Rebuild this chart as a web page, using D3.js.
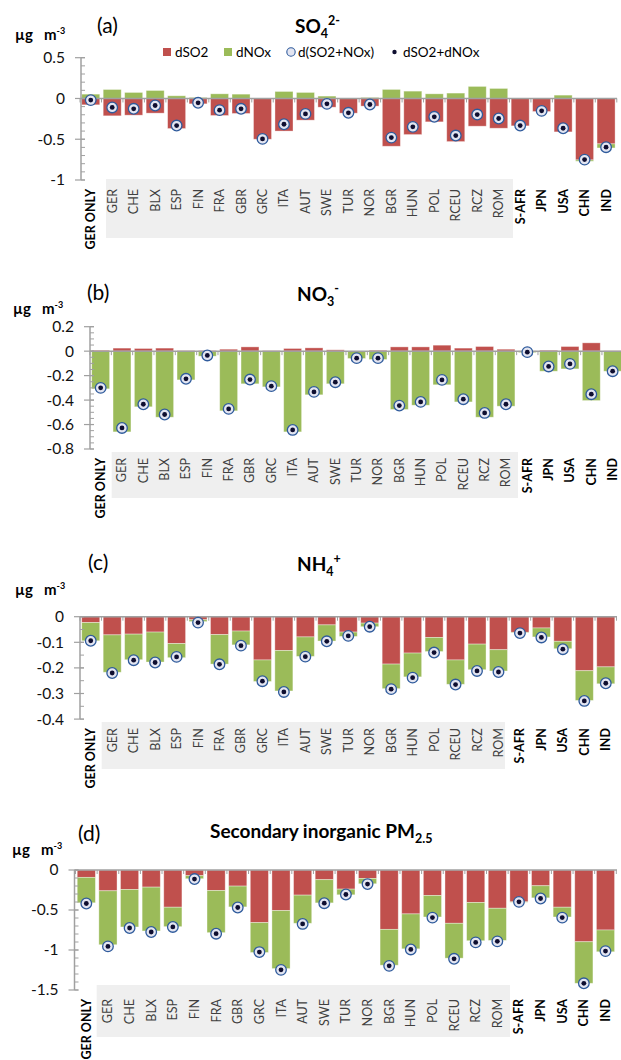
<!DOCTYPE html>
<html><head><meta charset="utf-8">
<script src="https://cdn.jsdelivr.net/npm/d3@7"></script>
<style>
html,body{margin:0;padding:0;background:#fff;}
svg{display:block;font-family:Lato,"Open Sans",sans-serif;}
</style></head>
<body>
<svg id="chart" width="621" height="1060"></svg>
<script>
// ---------------- DATA ----------------
const categories = ["GER ONLY","GER","CHE","BLX","ESP","FIN","FRA","GBR","GRC","ITA","AUT","SWE","TUR","NOR","BGR","HUN","POL","RCEU","RCZ","ROM","S-AFR","JPN","USA","CHN","IND"];
const europeGroup = ["GER","CHE","BLX","ESP","FIN","FRA","GBR","GRC","ITA","AUT","SWE","TUR","NOR","BGR","HUN","POL","RCEU","RCZ","ROM"];
const seriesNames = ["dSO2","dNOx","d(SO2+NOx)","dSO2+dNOx"];

// (a) SO4 2-
const so4DSO2  = [-0.078,-0.213,-0.205,-0.18,-0.369,-0.066,-0.209,-0.184,-0.5,-0.40,-0.266,-0.107,-0.18,-0.094,-0.586,-0.443,-0.287,-0.529,-0.34,-0.365,-0.336,-0.16,-0.41,-0.754,-0.557];
const so4DNOx  = [0.053,0.11,0.074,0.098,0.033,0.012,0.057,0.053,0,0.086,0.074,0.029,0,0.012,0.111,0.09,0.057,0.066,0.148,0.123,0,0,0.041,-0.016,-0.05];
const so4Circle= [-0.02,-0.11,-0.127,-0.086,-0.332,-0.053,-0.143,-0.127,-0.496,-0.316,-0.189,-0.066,-0.176,-0.074,-0.48,-0.348,-0.225,-0.455,-0.197,-0.246,-0.332,-0.152,-0.365,-0.75,-0.598];
const so4Dot   = [-0.02,-0.11,-0.127,-0.086,-0.332,-0.053,-0.143,-0.127,-0.496,-0.316,-0.189,-0.066,-0.176,-0.074,-0.48,-0.348,-0.225,-0.455,-0.197,-0.246,-0.332,-0.152,-0.365,-0.75,-0.598];
const so4Ticks = [0.5,0,-0.5,-1];

// (b) NO3-
const no3DSO2  = [0.008,0.025,0.022,0.025,0.005,0.005,0.016,0.035,0.005,0.022,0.027,0.011,0.0,0.008,0.035,0.035,0.049,0.025,0.038,0.016,0.002,0.008,0.038,0.068,0.003];
const no3DNOx  = [-0.308,-0.66,-0.455,-0.54,-0.235,-0.041,-0.488,-0.267,-0.292,-0.66,-0.357,-0.267,-0.06,-0.068,-0.477,-0.442,-0.275,-0.415,-0.54,-0.45,-0.012,-0.164,-0.145,-0.404,-0.164];
const no3Circle= [-0.30,-0.628,-0.434,-0.518,-0.226,-0.035,-0.472,-0.232,-0.286,-0.644,-0.333,-0.254,-0.057,-0.057,-0.445,-0.415,-0.235,-0.393,-0.505,-0.434,-0.008,-0.125,-0.104,-0.352,-0.164];
const no3Dot   = [-0.30,-0.628,-0.434,-0.518,-0.226,-0.035,-0.472,-0.232,-0.286,-0.644,-0.333,-0.254,-0.057,-0.057,-0.445,-0.415,-0.235,-0.393,-0.505,-0.434,-0.008,-0.125,-0.104,-0.352,-0.164];
const no3Ticks = [0.2,0,-0.2,-0.4,-0.6,-0.8];

// (c) NH4+
const nh4DSO2  = [-0.023,-0.071,-0.068,-0.060,-0.105,-0.012,-0.070,-0.056,-0.169,-0.132,-0.079,-0.032,-0.060,-0.025,-0.185,-0.142,-0.081,-0.169,-0.107,-0.129,-0.061,-0.044,-0.096,-0.211,-0.196];
const nh4DNOx  = [-0.071,-0.146,-0.100,-0.117,-0.055,-0.007,-0.115,-0.054,-0.084,-0.158,-0.076,-0.063,-0.017,-0.014,-0.096,-0.093,-0.055,-0.095,-0.100,-0.083,-0.002,-0.035,-0.029,-0.116,-0.066];
const nh4Circle= [-0.094,-0.22,-0.17,-0.179,-0.157,-0.023,-0.186,-0.113,-0.252,-0.294,-0.156,-0.096,-0.075,-0.039,-0.283,-0.238,-0.140,-0.265,-0.212,-0.216,-0.064,-0.081,-0.127,-0.329,-0.260];
const nh4Dot   = [-0.094,-0.22,-0.17,-0.179,-0.157,-0.023,-0.186,-0.113,-0.252,-0.294,-0.156,-0.096,-0.075,-0.039,-0.283,-0.238,-0.140,-0.265,-0.212,-0.216,-0.064,-0.081,-0.127,-0.329,-0.260];
const nh4Ticks = [0,-0.1,-0.2,-0.3,-0.4];

// (d) Secondary inorganic PM2.5
const pmDSO2   = [-0.092,-0.26,-0.243,-0.214,-0.465,-0.071,-0.256,-0.201,-0.658,-0.507,-0.314,-0.121,-0.239,-0.105,-0.742,-0.549,-0.318,-0.666,-0.406,-0.478,-0.398,-0.197,-0.465,-0.897,-0.75];
const pmDNOx   = [-0.318,-0.674,-0.469,-0.548,-0.243,-0.038,-0.527,-0.26,-0.373,-0.725,-0.352,-0.29,-0.071,-0.067,-0.448,-0.436,-0.269,-0.436,-0.478,-0.402,-0.005,-0.151,-0.122,-0.519,-0.272];
const pmCircle = [-0.419,-0.955,-0.725,-0.775,-0.712,-0.113,-0.796,-0.469,-1.026,-1.248,-0.674,-0.415,-0.306,-0.176,-1.198,-0.993,-0.595,-1.11,-0.905,-0.892,-0.398,-0.356,-0.595,-1.416,-1.014];
const pmDot    = [-0.419,-0.955,-0.725,-0.775,-0.712,-0.113,-0.796,-0.469,-1.026,-1.248,-0.674,-0.415,-0.306,-0.176,-1.198,-0.993,-0.595,-1.11,-0.905,-0.892,-0.398,-0.356,-0.595,-1.416,-1.014];
const pmTicks  = [0,-0.5,-1,-1.5];

// ---------------- STYLE / LAYOUT ----------------
const RED = "#c0504d", GREEN = "#9bbb59", AXIS = "#a0a0a0";
const svg = d3.select("#chart");
svg.append("rect").attr("width",621).attr("height",1060).attr("fill","#fff");

const panels = [
  {dSO2:so4DSO2,dNOx:so4DNOx,circle:so4Circle,dot:so4Dot,ticks:so4Ticks,domain:[-1,0.5],yr:[180,57.7],xr:[80,616.8],axisX:81,axisEnd:617,minor:0.1,
   tag:"(a)",tagX:97,tagY:33,title:[["SO",""],["4","sub"],["2-","sup"]],titleX:295,titleY:33,unitX:15,unitY:40,box:[106,179,513,238],legend:true},
  {dSO2:no3DSO2,dNOx:no3DNOx,circle:no3Circle,dot:no3Dot,ticks:no3Ticks,domain:[-0.8,0.2],yr:[449,326.7],xr:[90,623.3],axisX:90,axisEnd:621,minor:0.05,
   tag:"(b)",tagX:87,tagY:300,title:[["NO",""],["3","sub"],["-","sup"]],titleX:297,titleY:301,unitX:13,unitY:314,box:[111.7,452,518,498],legend:false},
  {dSO2:nh4DSO2,dNOx:nh4DNOx,circle:nh4Circle,dot:nh4Dot,ticks:nh4Ticks,domain:[-0.4,0],yr:[719.1,616.7],xr:[80,616.5],axisX:80,axisEnd:617,minor:0.05,
   tag:"(c)",tagX:88,tagY:570,title:[["NH",""],["4","sub"],["+","sup"]],titleX:297,titleY:571,unitX:15,unitY:595,box:[101.7,722,505,769],legend:false},
  {dSO2:pmDSO2,dNOx:pmDNOx,circle:pmCircle,dot:pmDot,ticks:pmTicks,domain:[-1.5,0],yr:[990,870],xr:[75.5,616.3],axisX:74.5,axisEnd:617,minor:0.1,
   tag:"(d)",tagX:78,tagY:841,title:[["Secondary inorganic PM",""],["2.5","sub"]],titleX:210,titleY:838,unitX:12,unitY:855,box:[96.7,985,510,1037],legend:false}
];

panels.forEach(p => {
  const g = svg.append("g");
  const x = d3.scaleBand().domain(categories).range(p.xr).paddingInner(0.16).paddingOuter(0.08);
  const y = d3.scaleLinear().domain(p.domain).range(p.yr);
  const y0 = y(0), yBottom = p.yr[0], yTop = p.yr[1];

  // grey box behind European labels
  g.append("rect").attr("x",p.box[0]).attr("y",p.box[1])
    .attr("width",p.box[2]-p.box[0]).attr("height",p.box[3]-p.box[1]).attr("fill","#efefef");

  // stacked bars
  const rows = categories.map((c,i)=>({cat:c, dSO2:p.dSO2[i], dNOx:p.dNOx[i]}));
  const stack = d3.stack().keys(["dSO2","dNOx"]).offset(d3.stackOffsetDiverging);
  const layers = stack(rows);
  const colors = {dSO2:RED, dNOx:GREEN};
  layers.forEach(layer => {
    g.append("g").selectAll("rect").data(layer).join("rect")
      .attr("x", d => x(d.data.cat))
      .attr("width", x.bandwidth())
      .attr("y", d => y(Math.max(d[0],d[1])))
      .attr("height", d => Math.abs(y(d[0]) - y(d[1])))
      .attr("fill", colors[layer.key])
      .attr("stroke","#ffffff").attr("stroke-opacity",0.45).attr("stroke-width",0.8);
  });

  // y axis: line, major and minor ticks
  g.append("line").attr("x1",p.axisX).attr("x2",p.axisX).attr("y1",yTop).attr("y2",yBottom)
    .attr("stroke",AXIS).attr("stroke-width",1.5);
  const nMinor = Math.round((p.domain[1]-p.domain[0])/p.minor);
  d3.range(nMinor+1).forEach(k => {
    const v = p.domain[0] + k*p.minor;
    g.append("line").attr("x1",p.axisX).attr("x2",p.axisX+4).attr("y1",y(v)).attr("y2",y(v))
      .attr("stroke",AXIS).attr("stroke-width",1);
  });
  p.ticks.forEach(v => {
    g.append("line").attr("x1",p.axisX-6).attr("x2",p.axisX+4).attr("y1",y(v)).attr("y2",y(v))
      .attr("stroke",AXIS).attr("stroke-width",1.2);
    g.append("text").attr("x",p.axisX-16).attr("y",y(v)).attr("dy","0.35em")
      .attr("text-anchor","end").attr("font-size",15.5).attr("fill","#111")
      .text(String(v));
  });

  // zero line with category ticks
  g.append("line").attr("x1",p.axisX).attr("x2",p.axisEnd).attr("y1",y0).attr("y2",y0)
    .attr("stroke",AXIS).attr("stroke-width",1.5);
  d3.range(categories.length+1).forEach(k => {
    const xx = p.xr[0] + k*x.step();
    if (xx > p.axisEnd) return;
    g.append("line").attr("x1",xx).attr("x2",xx).attr("y1",y0).attr("y2",y0+4)
      .attr("stroke",AXIS).attr("stroke-width",1);
  });

  // markers
  g.append("g").selectAll("circle").data(p.circle).join("circle")
    .attr("cx",(d,i)=>x(categories[i])+x.bandwidth()/2).attr("cy",d=>y(d)).attr("r",5.3)
    .attr("fill","#e3e5f1").attr("stroke","#2f5b9c").attr("stroke-width",1.3);
  g.append("g").selectAll("circle").data(p.dot).join("circle")
    .attr("cx",(d,i)=>x(categories[i])+x.bandwidth()/2).attr("cy",d=>y(d)).attr("r",2.4)
    .attr("fill","#0e0e30");

  // x labels
  categories.forEach(c => {
    const eu = europeGroup.includes(c);
    g.append("text")
      .attr("transform",`translate(${x(c)+x.bandwidth()/2},${yBottom+9}) rotate(-90)`)
      .attr("text-anchor","end").attr("dy","0.36em")
      .attr("font-size",12.5).attr("font-weight",eu?400:700)
      .attr("fill",eu?"#404040":"#000").text(c);
  });

  // panel tag
  g.append("text").attr("x",p.tagX).attr("y",p.tagY).attr("font-size",21).attr("fill","#000").text(p.tag);
  // title
  const t = g.append("text").attr("x",p.titleX).attr("y",p.titleY).attr("font-size",19).attr("font-weight",700).attr("fill","#000");
  let shift = 0;
  p.title.forEach(([s,kind]) => {
    let dy = 0;
    if (kind==="sub"){ dy = 5 - shift; shift = 5; }
    else if (kind==="sup"){ dy = -8 - shift; shift = -8; }
    else { dy = -shift; shift = 0; }
    t.append("tspan").attr("dy",dy).attr("font-size",kind?12.5:19).text(s);
  });
  // unit label
  const u = g.append("text").attr("x",p.unitX).attr("y",p.unitY).attr("font-size",15).attr("font-weight",700).attr("fill","#000");
  u.append("tspan").text("µg");
  u.append("tspan").attr("x",p.unitX+29).text("m");
  u.append("tspan").attr("dy",-6).attr("font-size",9).text("-3");

  // legend
  if (p.legend){
    const ly = 52;
    const L = g.append("g").attr("font-size",13.5).attr("fill","#000");
    L.append("rect").attr("x",163).attr("y",ly-4).attr("width",8).attr("height",8).attr("fill",RED);
    L.append("text").attr("x",175).attr("y",ly).attr("dy","0.35em").text(seriesNames[0]);
    L.append("rect").attr("x",224).attr("y",ly-4).attr("width",8).attr("height",8).attr("fill",GREEN);
    L.append("text").attr("x",236).attr("y",ly).attr("dy","0.35em").text(seriesNames[1]);
    L.append("circle").attr("cx",291).attr("cy",ly).attr("r",4.2).attr("fill","#e3e5f1").attr("stroke","#2f5b9c").attr("stroke-width",1.1);
    L.append("text").attr("x",298).attr("y",ly).attr("dy","0.35em").text(seriesNames[2]);
    L.append("circle").attr("cx",394.5).attr("cy",ly).attr("r",2.2).attr("fill","#0e0e30");
    L.append("text").attr("x",403).attr("y",ly).attr("dy","0.35em").text(seriesNames[3]);
  }
});
</script>
</body></html>
